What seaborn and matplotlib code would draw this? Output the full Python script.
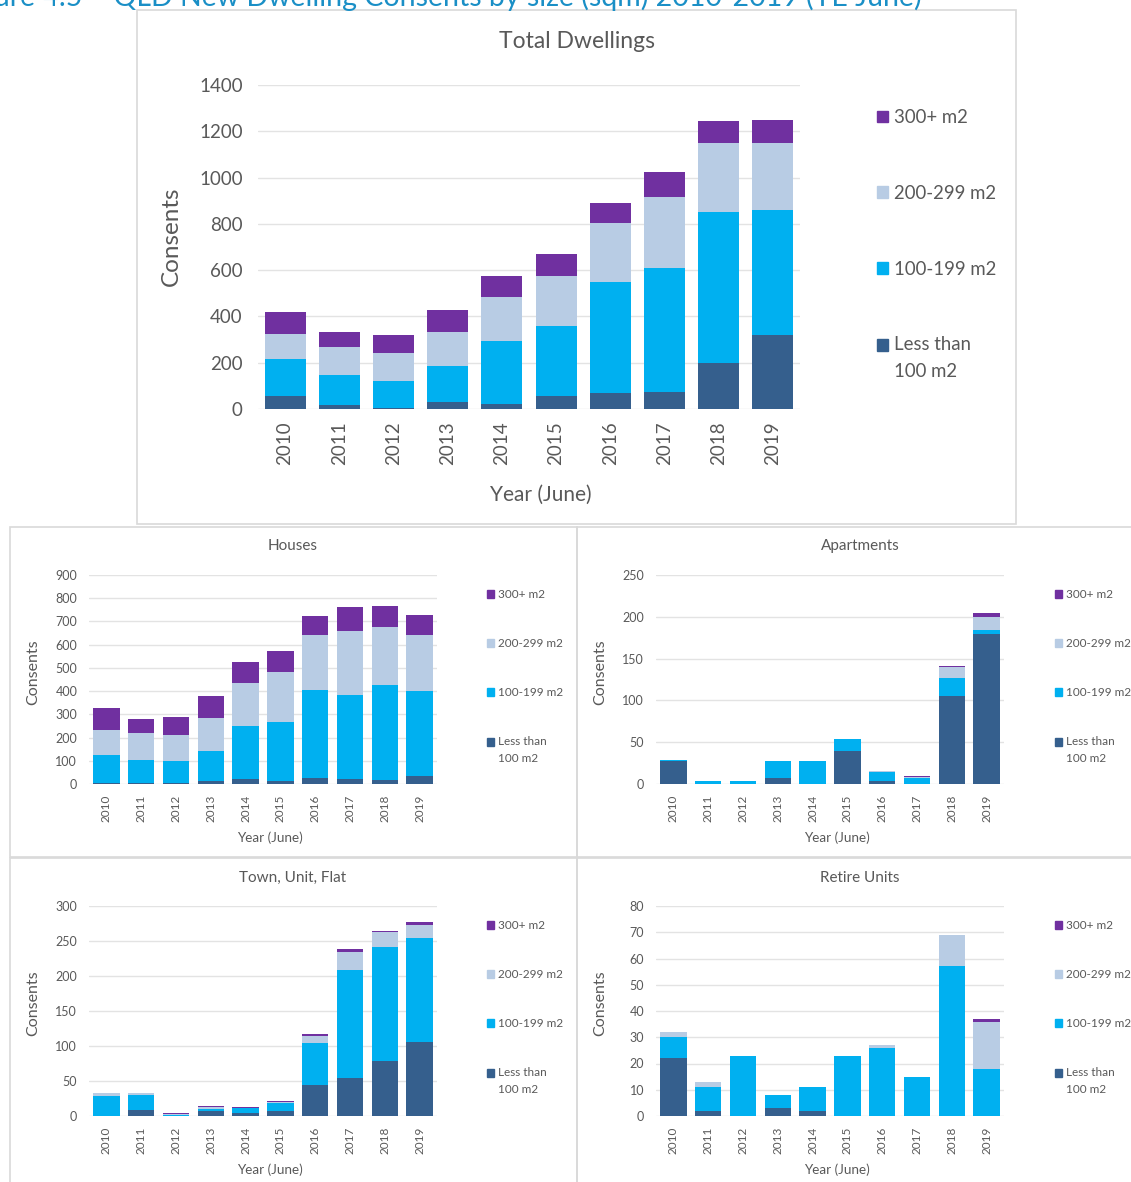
import pandas as pd
import matplotlib.pyplot as plt
import seaborn as sns
from matplotlib.patches import Rectangle, Patch
from matplotlib.legend_handler import HandlerPatch

years = ['2010', '2011', '2012', '2013', '2014', '2015', '2016', '2017', '2018', '2019']
size_labels = ['Less than\n100 m2', '100-199 m2', '200-299 m2', '300+ m2']

total_lt100 = [58, 17, 3, 29, 23, 58, 68, 72, 200, 318]
total_100 = [158, 130, 118, 157, 271, 301, 480, 539, 653, 541]
total_200 = [108, 122, 120, 148, 189, 217, 256, 307, 297, 291]
total_300 = [94, 65, 77, 94, 93, 95, 84, 108, 94, 99]

houses_lt100 = [6, 6, 3, 13, 20, 14, 24, 20, 16, 34]
houses_100 = [120, 96, 96, 131, 228, 252, 379, 362, 412, 365]
houses_200 = [105, 116, 113, 142, 185, 216, 240, 278, 247, 241]
houses_300 = [96, 63, 76, 91, 94, 89, 80, 101, 93, 89]

apts_lt100 = [28, 0, 0, 7, 0, 40, 3, 0, 105, 179]
apts_100 = [1, 4, 3, 20, 28, 14, 11, 7, 22, 5]
apts_200 = [0, 0, 1, 0, 0, 0, 2, 1, 13, 16]
apts_300 = [0, 0, 0, 0, 0, 0, 0, 2, 1, 4]

town_lt100 = [0, 8, 0, 7, 4, 7, 44, 54, 78, 106]
town_100 = [28, 22, 2, 3, 7, 12, 60, 154, 164, 149]
town_200 = [5, 3, 1, 3, 0, 1, 10, 27, 21, 18]
town_300 = [0, 0, 1, 2, 2, 2, 3, 3, 2, 4]

retire_lt100 = [22, 2, 0, 3, 2, 0, 0, 0, 0, 0]
retire_100 = [8, 9, 23, 5, 9, 23, 26, 15, 57, 18]
retire_200 = [2, 2, 0, 0, 0, 0, 1, 0, 12, 18]
retire_300 = [0, 0, 0, 0, 0, 0, 0, 0, 0, 1]

colors = ['#355f8d', '#00b0f0', '#b8cce4', '#7030a0']
text_grey = '#595959'

sns.set_style('white')
plt.rcParams['font.family'] = ['Lato', 'DejaVu Sans']

W, H = 1131, 1182
fig = plt.figure(figsize=(W / 100, H / 100), dpi=100)


def fx(px):
    return px / W


def fy(py):
    return 1 - py / H


def frame(x0, y0, x1, y1):
    fig.add_artist(Rectangle((fx(x0), fy(y1)), fx(x1 - x0), (y1 - y0) / H,
                             transform=fig.transFigure, fill=False,
                             edgecolor='#d9d9d9', lw=1.2))


def stacked(ax, parts, ymax, step, big):
    df = pd.DataFrame({'year': years})
    for name, vals in zip(size_labels, parts):
        df[name] = vals
    cum = df[size_labels].cumsum(axis=1)
    # draw tallest first so the lower segments sit on top
    for name, c in reversed(list(zip(size_labels, colors))):
        sns.barplot(x=df['year'], y=cum[name], color=c, width=0.76,
                    saturation=1, linewidth=0, ax=ax)
    ax.set_xlim(-0.5, 9.5)
    ax.set_ylim(0, ymax)
    ax.set_yticks(range(0, ymax + 1, step))
    ax.grid(axis='y', color='#e3e3e3', lw=1)
    ax.set_axisbelow(True)
    sns.despine(ax=ax, left=True, bottom=True)
    ax.tick_params(axis='y', labelsize=13.5 if big else 9, colors=text_grey, length=0,
                   pad=11 if big else 8.5)
    ax.tick_params(axis='x', labelsize=13.5 if big else 8.5, colors=text_grey, length=0,
                   rotation=90, pad=9 if big else 7.5)
    ax.set_ylabel('Consents', fontsize=17.5 if big else 11.5, color=text_grey, va='center')
    ax.set_xlabel('Year (June)', fontsize=15 if big else 9.7, color=text_grey, va='center')


def raised(legend, orig_handle, xdescent, ydescent, width, height, fontsize):
    # lift the square to the first line of the two-line label
    return Rectangle((-xdescent, -ydescent + 0.72 * fontsize), width, height)


def legend(ax, x, y, big):
    handles = [Patch(color=c) for c in colors[::-1]]
    leg = ax.legend(handles, size_labels[::-1], loc='upper left',
                    bbox_to_anchor=(fx(x), fy(y)), bbox_transform=fig.transFigure,
                    frameon=False, borderaxespad=0, borderpad=0,
                    fontsize=13.4 if big else 8.5, labelcolor=text_grey,
                    handlelength=0.6, handleheight=0.6, handletextpad=0.3,
                    labelspacing=3.16 if big else 3.22,
                    handler_map={handles[-1]: HandlerPatch(patch_func=raised)})
    for t in leg.get_texts():
        t.set_linespacing(1.65)


# page title, cut at the top edge like the source
fig.text(fx(922), fy(6), 'Figure 4.5 \u2013 QLD New Dwelling Consents by size (sqm) 2010-2019 (YE June)',
         ha='right', va='baseline', fontsize=20.5, color='#1a8fc6')

# panel frames
frame(137, 10, 1016, 524)
frame(10, 527, 577, 857)
frame(577, 527, 1140, 857)
frame(10, 858, 577, 1190)
frame(577, 858, 1140, 1190)

# Total dwellings
ax = fig.add_axes([fx(258), fy(409), fx(542), 324 / H])
stacked(ax, [total_lt100, total_100, total_200, total_300], 1400, 200, True)
ax.yaxis.set_label_coords(-0.159, 0.534)
ax.xaxis.set_label_coords(0.522, -0.265)
legend(ax, 877, 109, True)
fig.text(fx(577), fy(41), 'Total Dwellings', ha='center', va='center', fontsize=16.5, color=text_grey)

panels = [
    ('Houses', [houses_lt100, houses_100, houses_200, houses_300], 900, 100, 89, 575, 784, 293, 546, 487),
    ('Apartments', [apts_lt100, apts_100, apts_200, apts_300], 250, 50, 656, 575, 784, 860, 546, 1055),
    ('Town, Unit, Flat', [town_lt100, town_100, town_200, town_300], 300, 50, 89, 906, 1116, 293, 878, 487),
    ('Retire Units', [retire_lt100, retire_100, retire_200, retire_300], 80, 10, 656, 906, 1116, 860, 878, 1055),
]

for title, parts, ymax, step, left, top, bottom, tx, ty, lx in panels:
    ax = fig.add_axes([fx(left), fy(bottom), fx(348), (bottom - top) / H])
    stacked(ax, parts, ymax, step, False)
    ax.yaxis.set_label_coords(-0.160, 0.536)
    ax.xaxis.set_label_coords(0.52, -0.258)
    legend(ax, lx, top + 14, False)
    fig.text(fx(tx), fy(ty), title, ha='center', va='center', fontsize=11, color=text_grey)

fig.savefig('out.png', dpi=100)
